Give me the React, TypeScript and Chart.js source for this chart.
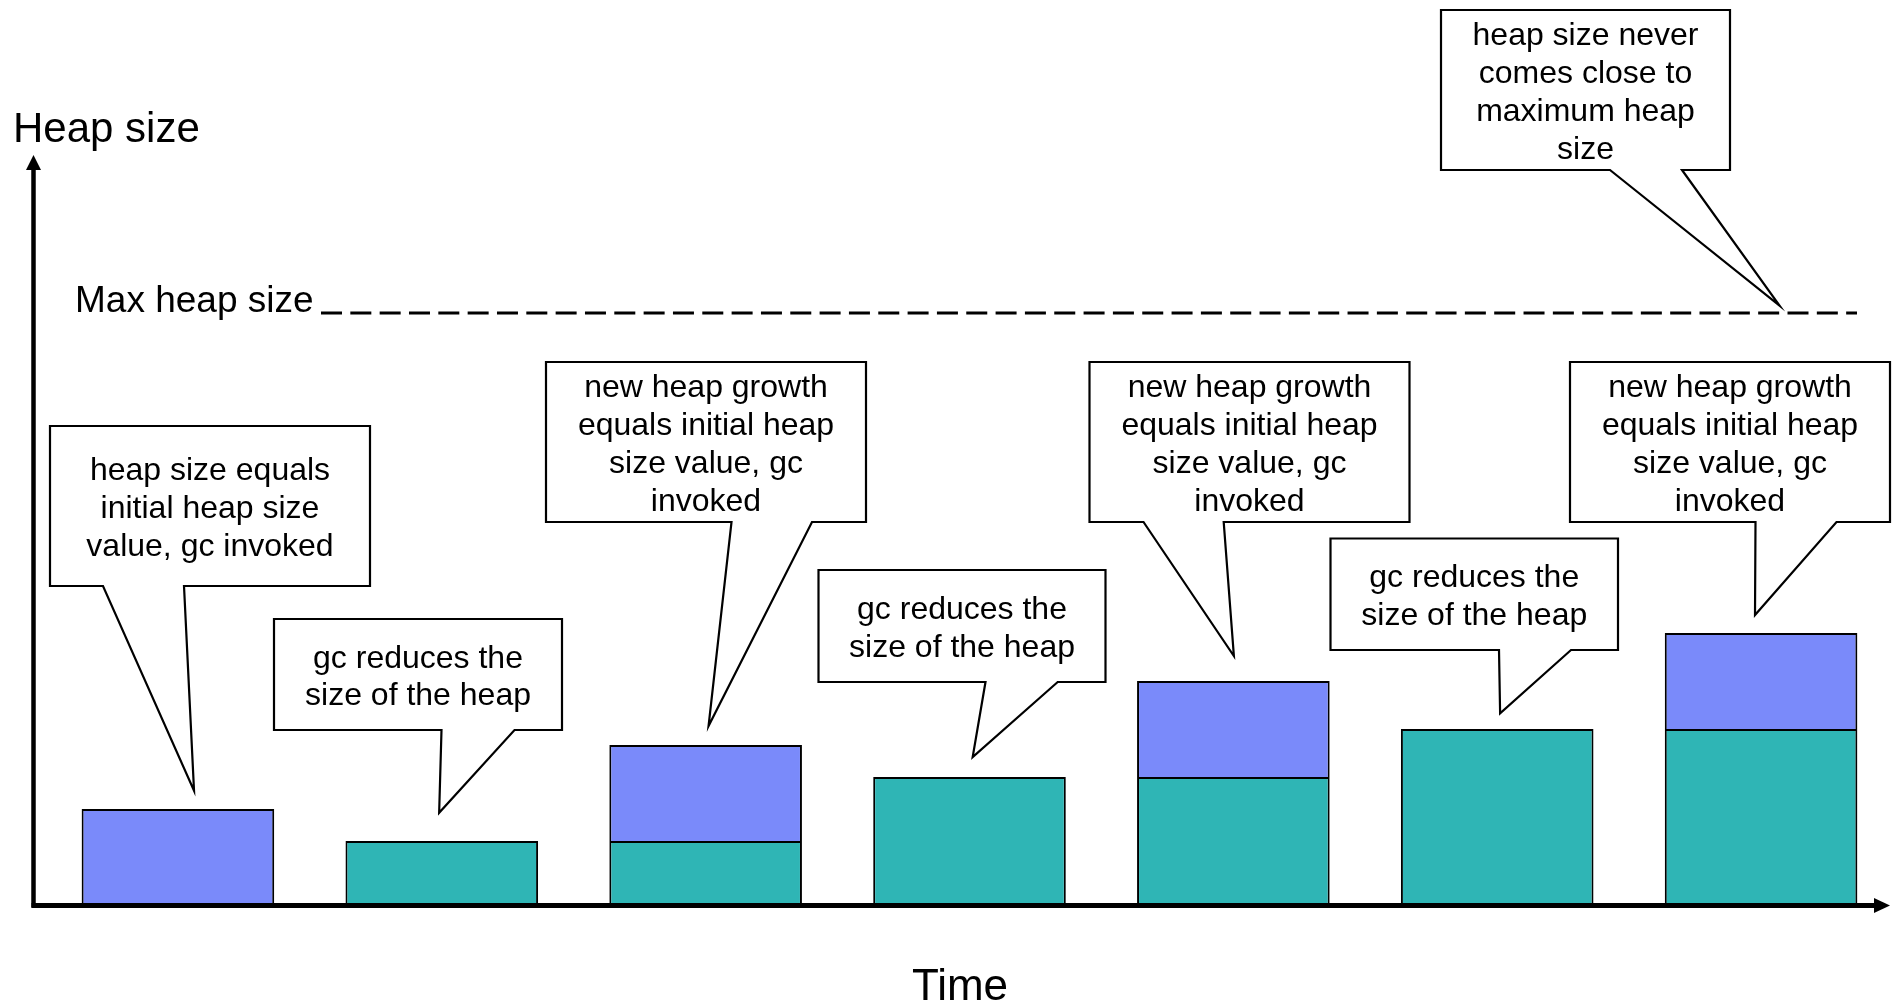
import React, { useEffect, useRef } from "react";
import { Chart, registerables } from "chart.js";

Chart.register(...registerables);

// ---------- data ----------
const CATEGORIES = ["t1", "t2", "t3", "t4", "t5", "t6", "t7"];
// heap retained after gc (teal)
const RETAINED_HEAP: (number | null)[] = [null, 20, 20, 40, 40, 55, 55];
// new heap growth, equal to the initial heap size (blue)
const NEW_GROWTH: (number | null)[] = [30, null, 30, null, 30, null, 30];
const MAX_HEAP = 185;
const Y_MAX = 240;

const Y_TITLE = "Heap size";
const X_TITLE = "Time";
const MAX_LABEL = "Max heap size";

const CALLOUT_TEXTS: string[][] = [
  ["heap size equals", "initial heap size", "value, gc invoked"],
  ["gc reduces the", "size of the heap"],
  ["new heap growth", "equals initial heap", "size value, gc", "invoked"],
  ["gc reduces the", "size of the heap"],
  ["new heap growth", "equals initial heap", "size value, gc", "invoked"],
  ["gc reduces the", "size of the heap"],
  ["new heap growth", "equals initial heap", "size value, gc", "invoked"],
  ["heap size never", "comes close to", "maximum heap", "size"],
];
// tip anchors in data space: fractional category index, value
const CALLOUT_TIP_CAT = [0.061, 0.99, 2.011, 3.012, 4.002, 5.011, 5.977, 6.07];
const CALLOUT_TIP_VAL = [35.7, 28.8, 55.9, 46.25, 77.8, 59.9, 90.6, 187.3];

// ---------- layout (pixels) ----------
const CALLOUT_BOXES = [
  { x: 50, y: 426, w: 320, h: 160, b1: 103, b2: 184 },
  { x: 274, y: 619, w: 288, h: 111, b1: 441.5, b2: 514.5 },
  { x: 546, y: 362, w: 320, h: 160, b1: 731.5, b2: 812 },
  { x: 818.5, y: 570, w: 287, h: 112, b1: 985.5, b2: 1057.7 },
  { x: 1089.5, y: 362, w: 320, h: 160, b1: 1143.5, b2: 1223.7 },
  { x: 1330.5, y: 538.5, w: 287.5, h: 111.5, b1: 1499, b2: 1571 },
  { x: 1570, y: 362, w: 320, h: 160, b1: 1755.5, b2: 1836.5 },
  { x: 1441, y: 10, w: 289, h: 160, b1: 1610, b2: 1682 },
];

const FONT = '"Liberation Sans", Arial, Helvetica, sans-serif';
const TEAL = "#2FB5B5";
const BLUE = "#7A8AFA";

const overlayPlugin = {
  id: "heapOverlay",
  afterDatasetsDraw(chart: any) {
    const { ctx, chartArea, scales } = chart;
    const xs = scales.x;
    const ys = scales.y;
    const catW = (chartArea.right - chartArea.left) / CATEGORIES.length;
    const catPx = (c: number) => chartArea.left + (c + 0.5) * catW;

    ctx.save();

    // max heap dashed line + label
    const maxY = ys.getPixelForValue(MAX_HEAP);
    ctx.fillStyle = "#000";
    ctx.font = `37px ${FONT}`;
    ctx.textAlign = "left";
    ctx.textBaseline = "alphabetic";
    ctx.fillText(MAX_LABEL, 75, maxY - 1);
    ctx.strokeStyle = "#000";
    ctx.lineWidth = 3;
    ctx.setLineDash([21, 8.33]);
    ctx.beginPath();
    ctx.moveTo(321, maxY);
    ctx.lineTo(1857, maxY);
    ctx.stroke();
    ctx.setLineDash([]);

    // axes with arrows
    const ax = chartArea.left - 12.5;
    const ay = ys.getPixelForValue(0) + 0.5;
    ctx.lineWidth = 4.5;
    ctx.beginPath();
    ctx.moveTo(ax, ay + 2);
    ctx.lineTo(ax, 168);
    ctx.stroke();
    ctx.beginPath();
    ctx.moveTo(ax, 155);
    ctx.lineTo(ax - 7.5, 170);
    ctx.lineTo(ax + 7.5, 170);
    ctx.closePath();
    ctx.fill();

    ctx.lineWidth = 5;
    ctx.beginPath();
    ctx.moveTo(ax - 2, ay);
    ctx.lineTo(1876, ay);
    ctx.stroke();
    ctx.beginPath();
    ctx.moveTo(1890, ay);
    ctx.lineTo(1874, ay - 7.5);
    ctx.lineTo(1874, ay + 7.5);
    ctx.closePath();
    ctx.fill();

    // axis titles
    ctx.font = `42px ${FONT}`;
    ctx.textAlign = "left";
    ctx.fillText(Y_TITLE, 13, 141.5);
    ctx.font = `44px ${FONT}`;
    ctx.textAlign = "center";
    ctx.fillText(X_TITLE, 960, 1000);

    // callouts
    CALLOUT_BOXES.forEach((b, i) => {
      const tx = catPx(CALLOUT_TIP_CAT[i]);
      const ty = ys.getPixelForValue(CALLOUT_TIP_VAL[i]);
      ctx.beginPath();
      ctx.moveTo(b.x, b.y);
      ctx.lineTo(b.x + b.w, b.y);
      ctx.lineTo(b.x + b.w, b.y + b.h);
      ctx.lineTo(b.b2, b.y + b.h);
      ctx.lineTo(tx, ty);
      ctx.lineTo(b.b1, b.y + b.h);
      ctx.lineTo(b.x, b.y + b.h);
      ctx.closePath();
      ctx.fillStyle = "#fff";
      ctx.fill();
      ctx.lineWidth = 2.2;
      ctx.lineJoin = "miter";
      ctx.strokeStyle = "#000";
      ctx.stroke();

      const lines = CALLOUT_TEXTS[i];
      const cx = b.x + b.w / 2;
      const cy = b.y + b.h / 2;
      ctx.fillStyle = "#000";
      ctx.font = `32px ${FONT}`;
      ctx.textAlign = "center";
      ctx.textBaseline = "alphabetic";
      lines.forEach((ln, j) => {
        ctx.fillText(ln, cx, cy + 12 + (j - (lines.length - 1) / 2) * 37.8);
      });
    });

    ctx.restore();
  },
};

export default function App() {
  const ref = useRef<HTMLCanvasElement | null>(null);

  useEffect(() => {
    if (!ref.current) return;
    const chart = new Chart(ref.current, {
      type: "bar",
      data: {
        labels: CATEGORIES,
        datasets: [
          {
            label: "retained heap",
            data: RETAINED_HEAP,
            backgroundColor: TEAL,
            borderColor: "#000",
            borderWidth: 2,
            barPercentage: 0.73,
            categoryPercentage: 1,
          },
          {
            label: "new heap growth",
            data: NEW_GROWTH,
            backgroundColor: BLUE,
            borderColor: "#000",
            borderWidth: 2,
            barPercentage: 0.73,
            categoryPercentage: 1,
          },
        ],
      },
      options: {
        animation: false,
        responsive: false,
        devicePixelRatio: 1,
        layout: { padding: { left: 46, right: 9, top: 137, bottom: 100 } },
        plugins: {
          legend: { display: false },
          tooltip: { enabled: false },
          title: { display: false },
        },
        scales: {
          x: { display: false, stacked: true, offset: true, grid: { display: false } },
          y: { display: false, stacked: true, min: 0, max: Y_MAX, grid: { display: false } },
        },
      },
      plugins: [overlayPlugin],
    });
    return () => chart.destroy();
  }, []);

  return (
    <div style={{ position: "fixed", left: 0, top: 0, width: 1902, height: 1005, background: "#fff" }}>
      <canvas ref={ref} width={1902} height={1005} style={{ display: "block" }} />
    </div>
  );
}
